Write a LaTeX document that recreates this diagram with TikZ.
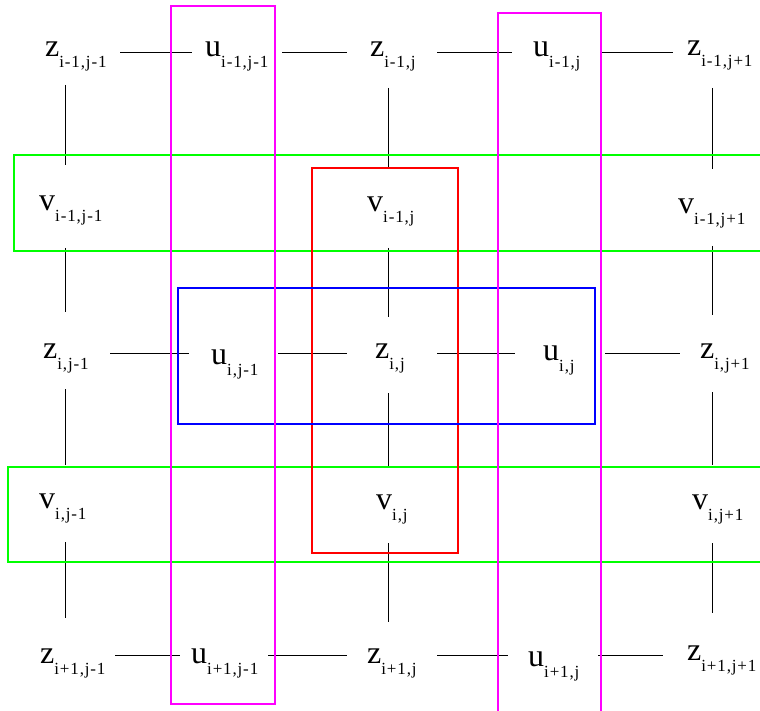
\documentclass[tikz,border=0pt]{standalone}
\usepackage{fontspec}
\setmainfont{Liberation Serif}
\newfontfamily\subf[LetterSpace=5]{Liberation Serif}
\newcommand{\lbl}[5]{\node[lab] (#1) at (#2,#3) {\fontsize{32}{32}\selectfont #4\raisebox{-11pt}{\fontsize{17}{17}\subf #5}};}
\newcommand{\hseg}[4]{\coordinate (#1a) at (#2,#4); \coordinate (#1b) at (#3,#4); \draw[link] (#1a) -- (#1b);}
\newcommand{\vseg}[4]{\coordinate (#1a) at (#2,#3); \coordinate (#1b) at (#2,#4); \draw[link] (#1a) -- (#1b);}
\begin{document}
\begin{tikzpicture}[x=1pt,y=-1pt,
  lab/.style={anchor=base west,inner sep=0pt},
  link/.style={line width=0.85pt,black},
  grp/.style={line width=1.8pt}]
\definecolor{mag}{RGB}{255,0,255}
\definecolor{grn}{RGB}{0,255,0}
\useasboundingbox (0,0) rectangle (760,711);
% connectors
\hseg{h11}{120}{192}{52}
\hseg{h12}{282}{347}{52}
\hseg{h13}{437}{512}{52}
\hseg{h14}{602}{673}{52}
\hseg{h31}{110}{189}{353}
\hseg{h32}{278}{347}{353}
\hseg{h33}{437}{515}{353}
\hseg{h34}{605}{680}{353}
\hseg{h51}{115}{180}{655}
\hseg{h52}{268}{347}{655}
\hseg{h53}{437}{508}{655}
\hseg{h54}{598}{663}{655}
\vseg{v11}{65}{85}{165}
\vseg{v12}{65}{248}{312}
\vseg{v13}{65}{389}{465}
\vseg{v14}{65}{542}{618}
\vseg{v31}{388}{88}{167}
\vseg{v32}{388}{248}{317}
\vseg{v33}{388}{393}{467}
\vseg{v34}{388}{543}{622}
\vseg{v51}{712}{88}{169}
\vseg{v52}{712}{246}{315}
\vseg{v53}{712}{392}{465}
\vseg{v54}{712}{543}{613}
% groups
\draw[grp,grn] (14,155) rectangle (775,251);
\draw[grp,grn] (8,467) rectangle (775,562);
\draw[grp,red] (312,168) rectangle (458,553);
\draw[grp,blue] (178,288) rectangle (595,424);
\draw[grp,mag] (171,6) rectangle (275,704);
\draw[grp,mag] (498,13) rectangle (601,712);
% labels row 1
\lbl{z11}{45}{57}{z}{i-1,j-1}
\lbl{u11}{205}{57}{u}{i-1,j-1}
\lbl{z12}{370}{57}{z}{i-1,j}
\lbl{u12}{533}{57}{u}{i-1,j}
\lbl{z13}{687}{56}{z}{i-1,j+1}
% row 2
\lbl{v11}{39}{211}{v}{i-1,j-1}
\lbl{v12}{367}{212}{v}{i-1,j}
\lbl{v13}{678}{214}{v}{i-1,j+1}
% row 3
\lbl{z21}{43}{358}{z}{i,j-1}
\lbl{u21}{211}{364}{u}{i,j-1}
\lbl{z22}{375}{358}{z}{i,j}
\lbl{u22}{543}{360}{u}{i,j}
\lbl{z23}{700}{358}{z}{i,j+1}
% row 4
\lbl{v21}{39}{508}{v}{i,j-1}
\lbl{v22}{376}{509}{v}{i,j}
\lbl{v23}{692}{509}{v}{i,j+1}
% row 5
\lbl{z31}{40}{663}{z}{i+1,j-1}
\lbl{u31}{191}{663}{u}{i+1,j-1}
\lbl{z32}{367}{663}{z}{i+1,j}
\lbl{u32}{528}{666}{u}{i+1,j}
\lbl{z33}{687}{660}{z}{i+1,j+1}
\end{tikzpicture}
\end{document}
